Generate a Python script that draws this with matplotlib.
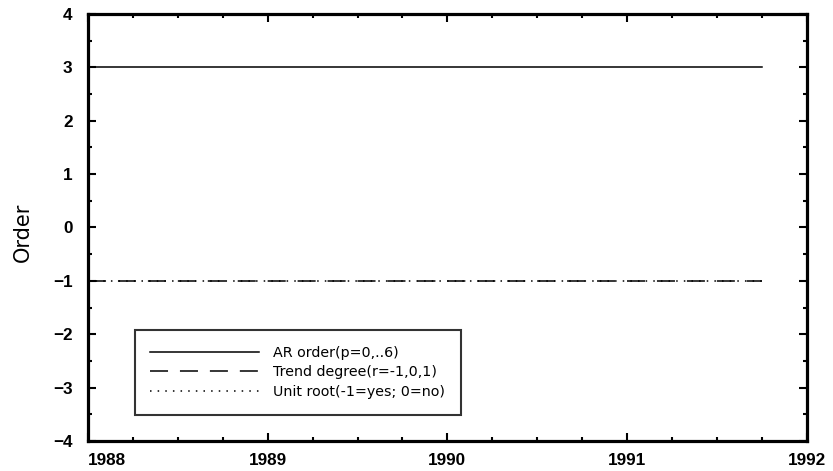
import matplotlib
matplotlib.use('Agg')
import matplotlib.pyplot as plt
from matplotlib.ticker import MultipleLocator

# quarterly dates, 1988Q1 .. 1991Q4
dates = [1988.0, 1988.25, 1988.5, 1988.75, 1989.0, 1989.25, 1989.5, 1989.75,
         1990.0, 1990.25, 1990.5, 1990.75, 1991.0, 1991.25, 1991.5, 1991.75]
ar_order = [3, 3, 3, 3, 3, 3, 3, 3, 3, 3, 3, 3, 3, 3, 3, 3]
trend_degree = [-1, -1, -1, -1, -1, -1, -1, -1, -1, -1, -1, -1, -1, -1, -1, -1]
unit_root = [-1, -1, -1, -1, -1, -1, -1, -1, -1, -1, -1, -1, -1, -1, -1, -1]
labels = ['AR order(p=0,..6)', 'Trend degree(r=-1,0,1)', 'Unit root(-1=yes; 0=no)']
xticks = [1988, 1989, 1990, 1991, 1992]
yticks = [-4, -3, -2, -1, 0, 1, 2, 3, 4]

fig = plt.figure(figsize=(8.33, 4.71), dpi=100)
ax = fig.add_axes([0.1056, 0.0637, 0.863, 0.9066])

ax.plot(dates, ar_order, color='black', lw=1.1, label=labels[0])
ax.plot(dates, trend_degree, color='black', lw=1.1, dashes=(11.8, 7.8), label=labels[1])
ax.plot(dates, unit_root, color='black', lw=1.1, dashes=(1, 4), label=labels[2])

ax.set_xlim(1988, 1992)
ax.set_ylim(-4, 4)
ax.xaxis.set_minor_locator(MultipleLocator(0.25))
ax.yaxis.set_minor_locator(MultipleLocator(0.5))
ax.tick_params(which='both', direction='in', top=True, right=True, width=1.5)
ax.tick_params(which='major', length=6)
ax.tick_params(which='minor', length=3)
ax.tick_params(axis='x', which='major', pad=9)
ax.tick_params(axis='y', which='major', pad=11)

ax.set_xticks(xticks)
ax.set_xticklabels([str(t) for t in xticks], fontsize=12.3, fontweight='bold',
                   family='Liberation Sans')
ax.get_xticklabels()[0].set_horizontalalignment('left')
ax.set_yticks(yticks)
ax.set_yticklabels([str(t).replace('-', '\u2212') for t in yticks],
                   fontsize=12.3, fontweight='bold', family='Liberation Sans')

for s in ax.spines.values():
    s.set_linewidth(2.3)

fig.text(23 / 833, 1 - 232 / 471, 'Order', rotation=90, ha='center', va='center',
         fontsize=15)

leg = ax.legend(loc='lower left', bbox_to_anchor=(0.065, 0.061), borderaxespad=0,
                fontsize=10.3, handlelength=7.6, frameon=True, fancybox=False,
                edgecolor='black', borderpad=1.1, labelspacing=0.40,
                handletextpad=1.0)
leg.get_frame().set_linewidth(1.5)

plt.savefig('out.png', dpi=100)
